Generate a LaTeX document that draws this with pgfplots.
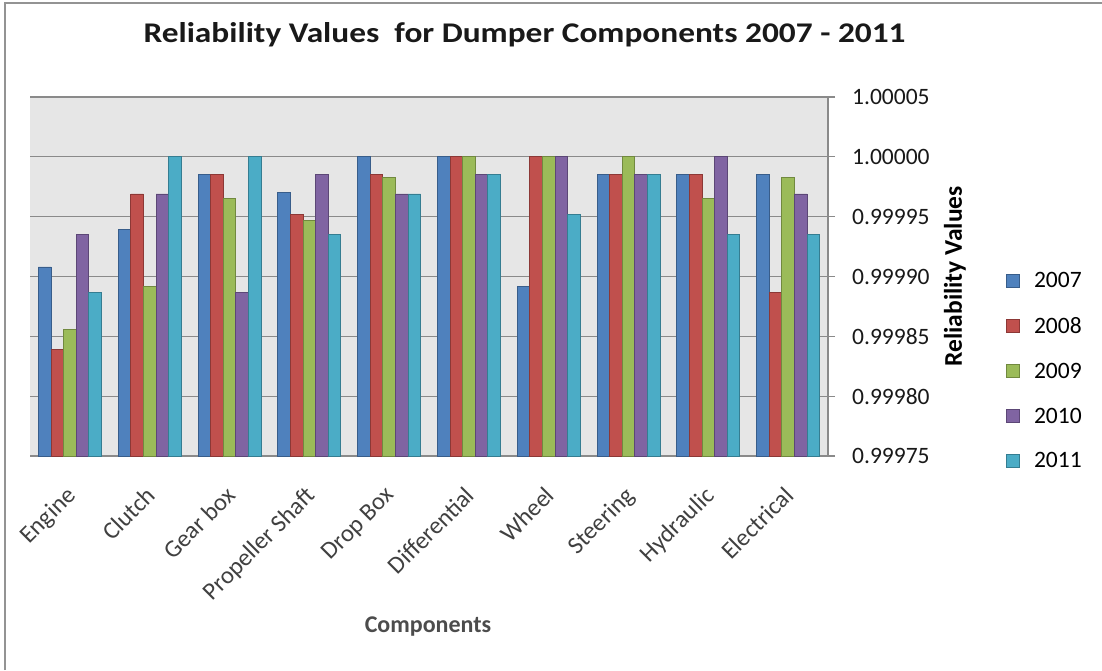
\documentclass[border=0pt]{standalone}
\usepackage{pgfplots}
\usepackage{pgfplotstable}
\pgfplotsset{compat=1.18}
\usepackage{fontspec}
\setmainfont{Carlito}
\definecolor{c1}{HTML}{4F81BD}\definecolor{d1}{HTML}{385D8A}
\definecolor{c2}{HTML}{C0504D}\definecolor{d2}{HTML}{8C3836}
\definecolor{c3}{HTML}{9BBB59}\definecolor{d3}{HTML}{71893F}
\definecolor{c4}{HTML}{8064A2}\definecolor{d4}{HTML}{5C4776}
\definecolor{c5}{HTML}{4BACC6}\definecolor{d5}{HTML}{357D91}
\definecolor{bg}{HTML}{E6E6E6}
\definecolor{gridc}{HTML}{8A8A8A}
\pgfplotstableread{
x Y2007 Y2008 Y2009 Y2010 Y2011
0 0.999908 0.999839 0.999856 0.999935 0.999887
1 0.999939 0.999969 0.999892 0.999969 1.000000
2 0.999985 0.999985 0.999965 0.999887 1.000000
3 0.999970 0.999952 0.999947 0.999985 0.999935
4 1.000000 0.999985 0.999983 0.999969 0.999969
5 1.000000 1.000000 1.000000 0.999985 0.999985
6 0.999892 1.000000 1.000000 1.000000 0.999952
7 0.999985 0.999985 1.000000 0.999985 0.999985
8 0.999985 0.999985 0.999965 1.000000 0.999935
9 0.999985 0.999887 0.999983 0.999969 0.999935
}\data
\begin{document}
\begin{tikzpicture}[x=1pt,y=1pt]
\useasboundingbox (0,0) rectangle (1102,670);
\draw[color=gray!85, line width=2pt] (5,0) -- (5,667) -- (1102,667);
\node[font=\fontsize{28.5}{34}\selectfont\bfseries, text=black!90, xscale=1.17, inner sep=0pt] at (524.5,635) {Reliability Values\ \ for Dumper Components 2007 - 2011};
\begin{axis}[
  at={(30pt,214pt)}, anchor=south west,
  scale only axis, width=798pt, height=359pt,
  xmin=-0.5, xmax=9.5, ymin=0, ymax=30,
  y filter/.expression={(y-0.99975)*100000},
  ybar=0pt, bar width=12.6pt,
  axis background/.style={fill=bg},
  axis x line*=bottom, axis y line*=right,
  axis line style={draw=gridc, line width=1.2pt},
  xtick=data,
  xticklabels={Engine,Clutch,Gear box,Propeller Shaft,Drop Box,Differential,Wheel,Steering,Hydraulic,Electrical},
  xtick style={draw=none},
  xticklabel style={xshift=-5pt, yshift=-22pt, rotate=45, anchor=north east, inner sep=0pt, font=\fontsize{24.5}{28}\selectfont, text=black!75},
  ytick={0,5,10,15,20,25,30},
  yticklabels={0.99975,0.99980,0.99985,0.99990,0.99995,1.00000,1.00005},
  yticklabel style={font=\fontsize{23.5}{27}\selectfont, text=black!90, xshift=17pt, inner sep=0pt},
  ytick style={draw=gridc, line width=1.2pt},
  tick align=outside, major tick length=7pt,
  ymajorgrids, grid style={draw=gridc, line width=1.3pt},
  every axis y label/.style={at={(rel axis cs:1.159,0.5)}, rotate=90, anchor=center, font=\fontsize{25.5}{30}\selectfont\bfseries},
  ylabel={Reliability Values},
  every axis x label/.style={at={(rel axis cs:0.4987,-0.476)}, anchor=center, font=\fontsize{24}{28}\selectfont\bfseries, text=black!70},
  xlabel={Components},
  legend style={draw=none, fill=none, at={(1.2231,0.2368)}, anchor=west, inner sep=0pt, row sep=28pt, font=\fontsize{23.5}{27}\selectfont, nodes={inner sep=0pt}},
  /tikz/every odd column/.append style={column sep=14pt},
  legend cell align=left,
  legend image code/.code={\draw[#1, line width=0.8pt] (0pt,-6.5pt) rectangle (13pt,6.5pt);},
  clip=false,
]
\addplot[fill=c1, draw=d1, line width=0.8pt] table[x=x, y=Y2007]{\data};
\addplot[fill=c2, draw=d2, line width=0.8pt] table[x=x, y=Y2008]{\data};
\addplot[fill=c3, draw=d3, line width=0.8pt] table[x=x, y=Y2009]{\data};
\addplot[fill=c4, draw=d4, line width=0.8pt] table[x=x, y=Y2010]{\data};
\addplot[fill=c5, draw=d5, line width=0.8pt] table[x=x, y=Y2011]{\data};
\legend{2007,2008,2009,2010,2011}
\end{axis}
\end{tikzpicture}
\end{document}
